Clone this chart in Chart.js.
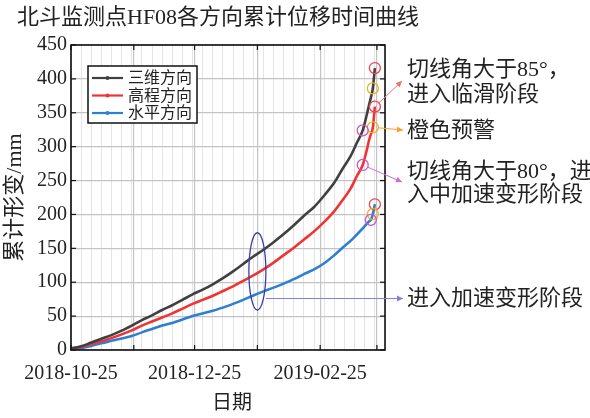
<!DOCTYPE html>
<html>
<head>
<meta charset="utf-8">
<script src="https://cdn.jsdelivr.net/npm/chart.js@4.4.1/dist/chart.umd.min.js"></script>
<style>
  html, body { margin: 0; padding: 0; background: #fff; }
  #wrap { width: 590px; height: 418px; position: relative; }
</style>
</head>
<body>
<div id="wrap"><canvas id="c" width="590" height="418"></canvas></div>
<script>
// Days since 2018-10-25 for each observation
const days = [0, 5, 10, 15, 20, 25, 30, 35, 40, 45, 50, 55, 60, 65, 70, 75, 80, 85, 90, 95,
  100, 105, 110, 115, 120, 125, 130, 134, 138, 141, 144, 146, 147, 148, 149, 150];

// Cumulative displacement (mm)
const threeD = [2.5, 5.5, 11, 16.5, 22, 28.5, 36, 44, 51, 59, 66, 74, 82, 89, 97, 106, 116, 127, 138, 148,
  159, 171, 184, 198, 211, 228, 247, 267, 286, 305, 324, 347, 360, 372, 386, 416];
const elevation = [2, 4.5, 9, 13, 17.5, 23, 29, 36, 42, 48, 54, 61, 68, 74, 80, 87, 94, 102, 110, 119,
  129, 140, 151, 163, 175, 189, 205, 221, 238, 256, 273, 295, 308, 318, 328.5, 359];
const horizontal = [1.5, 2.5, 6, 10, 13.5, 17, 20.5, 26, 31, 36, 40, 45, 50, 54, 58, 62.5, 68, 74, 80.5, 86.5,
  92, 98, 104.5, 112, 119, 128, 140, 151, 161, 170, 179.5, 186, 189.5, 192, 200.5, 215];

const seriesNames = ['三维方向', '高程方向', '水平方向'];

// Stage markers: day at which each series reaches the stage (三维, 高程, 水平)
const accelStageDay = [144, 144, 148];   // tangent angle > 80°
const warningDay = [149, 149, 149];      // orange warning
const slideStageDay = [150, 150, 150];   // tangent angle > 85°

// Axis ticks: monthly grid on the 25th, labels every two months
const monthTickDays = [0, 31, 61, 92, 123, 151];
const dateLabelDays = [0, 61, 123];
const dateLabels = ['2018-10-25', '2018-12-25', '2019-02-25'];

// Highlighted region where the acceleration stage begins
const ellipseDay = 92, ellipseValue = 116, ellipseHalfRange = 57;
const accelEntryValue = 76;

const SERIF = '"Liberation Serif", "Noto Sans CJK SC", serif';
const colors = ['#404040', '#f03434', '#2f7fd0'];
const series = [threeD, elevation, horizontal];

const toPoints = (vals) => days.map((d, i) => ({ x: d, y: vals[i] }));
const markerPoints = (stageDays) => stageDays.map((d, k) => ({ x: d, y: series[k][days.indexOf(d)] }));

const curveSets = series.map((vals, k) => ({
  label: seriesNames[k],
  data: toPoints(vals),
  borderColor: colors[k],
  backgroundColor: colors[k],
  borderWidth: 2.6,
  pointRadius: 0,
  cubicInterpolationMode: 'monotone',
  order: 2
}));

const markerSet = (pts, color) => ({
  label: '',
  data: pts,
  showLine: false,
  pointRadius: 5.5,
  pointHoverRadius: 5.5,
  pointBorderWidth: 1.3,
  pointBorderColor: color,
  pointBackgroundColor: 'rgba(0,0,0,0)',
  order: 1
});

const markerSets = [
  markerSet(markerPoints(accelStageDay), '#cc55cc'),
  markerSet(markerPoints(warningDay), '#f0b020'),
  markerSet(markerPoints(slideStageDay), '#ea4450')
];

function arrow(ctx, x1, y1, x2, y2, color) {
  ctx.save();
  ctx.strokeStyle = color; ctx.fillStyle = color; ctx.lineWidth = 1;
  ctx.beginPath(); ctx.moveTo(x1, y1); ctx.lineTo(x2, y2); ctx.stroke();
  const ang = Math.atan2(y2 - y1, x2 - x1), L = 6, W = 3;
  ctx.beginPath();
  ctx.moveTo(x2, y2);
  ctx.lineTo(x2 - L * Math.cos(ang) + W * Math.sin(ang), y2 - L * Math.sin(ang) - W * Math.cos(ang));
  ctx.lineTo(x2 - L * Math.cos(ang) - W * Math.sin(ang), y2 - L * Math.sin(ang) + W * Math.cos(ang));
  ctx.closePath(); ctx.fill();
  ctx.restore();
}

const decor = {
  id: 'decor',
  beforeDatasetsDraw(chart) {
    const { ctx, chartArea: a, scales: { x, y } } = chart;
    ctx.save();
    ctx.strokeStyle = '#111';
    ctx.lineWidth = 1.2;
    const seg = (x1, y1, x2, y2) => { ctx.beginPath(); ctx.moveTo(x1, y1); ctx.lineTo(x2, y2); ctx.stroke(); };
    y.ticks.forEach(t => {
      const py = y.getPixelForValue(t.value);
      seg(a.left, py, a.left + 5, py); seg(a.right, py, a.right - 5, py);
    });
    x.ticks.forEach(t => {
      const px = x.getPixelForValue(t.value);
      seg(px, a.bottom, px, a.bottom - 5); seg(px, a.top, px, a.top + 5);
    });
    ctx.restore();
  },
  afterDraw(chart) {
    const { ctx, chartArea: a, scales: { x, y } } = chart;
    ctx.save();
    // plot frame
    ctx.strokeStyle = '#111'; ctx.lineWidth = 1.6;
    ctx.strokeRect(a.left, a.top, a.right - a.left, a.bottom - a.top);

    // titles
    ctx.fillStyle = '#222';
    ctx.textBaseline = 'middle';
    ctx.textAlign = 'left';
    ctx.font = '22px ' + SERIF;
    ctx.fillText('北斗监测点HF08各方向累计位移时间曲线', 17, 18);
    ctx.textAlign = 'center';
    ctx.font = '20px ' + SERIF;
    ctx.fillText('日期', 232, 404);
    ctx.save();
    ctx.translate(15, (a.top + a.bottom) / 2);
    ctx.rotate(-Math.PI / 2);
    ctx.font = '22px ' + SERIF;
    ctx.fillText('累计形变/mm', 0, 0);
    ctx.restore();

    // legend
    const lx = 88, ly = 66, lw = 109, lh = 57;
    ctx.fillStyle = '#fff';
    ctx.fillRect(lx, ly, lw, lh);
    ctx.strokeStyle = '#111'; ctx.lineWidth = 1.5;
    ctx.strokeRect(lx, ly, lw, lh);
    ctx.font = '16px ' + SERIF;
    ctx.textAlign = 'left';
    curveSets.forEach((ds, k) => {
      const cy = ly + 12 + k * 17.5;
      ctx.strokeStyle = ds.borderColor; ctx.lineWidth = 2.2;
      ctx.beginPath(); ctx.moveTo(lx + 4, cy); ctx.lineTo(lx + 35, cy); ctx.stroke();
      ctx.fillStyle = ds.borderColor;
      ctx.beginPath(); ctx.arc(lx + 19.5, cy, 2, 0, Math.PI * 2); ctx.fill();
      ctx.fillStyle = '#222';
      ctx.fillText(ds.label, lx + 40, cy + 1);
    });

    // ellipse around the onset of acceleration
    const ex = x.getPixelForValue(ellipseDay), ey = y.getPixelForValue(ellipseValue);
    const ery = y.getPixelForValue(ellipseValue - ellipseHalfRange) - ey, erx = 8.5;
    ctx.strokeStyle = '#3c3ca8'; ctx.lineWidth = 1.3;
    ctx.beginPath(); ctx.ellipse(ex, ey, erx, ery, 0, 0, Math.PI * 2); ctx.stroke();
    const entryY = y.getPixelForValue(accelEntryValue);
    arrow(ctx, ex + erx, entryY, 403, entryY, '#8080d8');

    // arrows from the 高程 markers to the notes
    const from = (day, vals, tx, ty, color) => {
      const px = x.getPixelForValue(day), py = y.getPixelForValue(vals[days.indexOf(day)]);
      const ang = Math.atan2(ty - py, tx - px);
      arrow(ctx, px + 5.5 * Math.cos(ang), py + 5.5 * Math.sin(ang), tx, ty, color);
    };
    from(slideStageDay[1], elevation, 402, 81, '#f07070');
    from(warningDay[1], elevation, 403, 130, '#f5a030');
    from(accelStageDay[1], elevation, 402, 182, '#d070d0');

    // notes
    ctx.fillStyle = '#222';
    ctx.font = '22px ' + SERIF;
    ctx.textAlign = 'left';
    ctx.fillText('切线角大于85°，', 407, 70);
    ctx.fillText('进入临滑阶段', 407, 95);
    ctx.fillText('橙色预警', 407, 131);
    ctx.fillText('切线角大于80°，进', 407, 172);
    ctx.fillText('入中加速变形阶段', 407, 195);
    ctx.fillText('进入加速变形阶段', 407, 299);
    ctx.restore();
  }
};

new Chart(document.getElementById('c'), {
  type: 'line',
  data: { datasets: [...markerSets, ...curveSets] },
  options: {
    responsive: false,
    animation: false,
    devicePixelRatio: 1,
    layout: { padding: { left: 0, top: 45, right: 205, bottom: 0 } },
    plugins: { legend: { display: false }, tooltip: { enabled: false }, title: { display: false } },
    scales: {
      xMinor: {
        type: 'linear', position: 'bottom', min: 0, max: 155,
        ticks: { display: false, stepSize: 5 },
        grid: { color: '#e4e4e4', lineWidth: 1, drawTicks: false },
        border: { display: false },
        afterFit: s => { s.height = 0; }
      },
      x: {
        type: 'linear', position: 'bottom', min: 0, max: 155,
        afterBuildTicks: s => { s.ticks = monthTickDays.map(v => ({ value: v })); },
        ticks: {
          autoSkip: false, maxRotation: 0, padding: 12, color: '#222',
          font: { family: SERIF, size: 20 },
          callback: v => { const i = dateLabelDays.indexOf(v); return i >= 0 ? dateLabels[i] : ''; }
        },
        grid: { color: '#c4c4c4', lineWidth: 1.2, drawTicks: false },
        border: { display: false },
        afterFit: s => { s.height = 68; }
      },
      y: {
        type: 'linear', min: 0, max: 450,
        ticks: { stepSize: 50, padding: 4, color: '#222', font: { family: SERIF, size: 20 } },
        grid: { color: '#c4c4c4', lineWidth: 1.2, drawTicks: false },
        border: { display: false },
        afterFit: s => { s.width = 71; }
      }
    }
  },
  plugins: [decor]
});
</script>
</body>
</html>
